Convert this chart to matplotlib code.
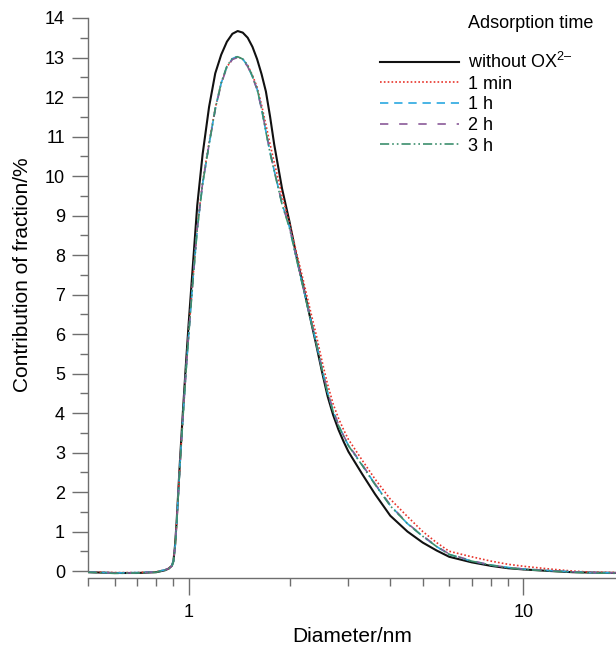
import matplotlib
matplotlib.use("Agg")
import matplotlib.pyplot as plt
from matplotlib.ticker import FixedLocator, NullFormatter, FixedFormatter, MultipleLocator

plt.rcParams['font.family'] = ['Liberation Sans', 'DejaVu Sans']
plt.rcParams['mathtext.fontset'] = 'custom'
plt.rcParams['mathtext.rm'] = 'Liberation Sans'

# diameter grid (nm) and contribution of fraction (%)
diameter = [0.5, 0.6, 0.7, 0.8, 0.85, 0.87, 0.89, 0.9, 0.91, 0.92, 0.94, 0.96,
            0.98, 1.0, 1.03, 1.06, 1.1, 1.15, 1.2, 1.25, 1.3, 1.35, 1.4, 1.45,
            1.5, 1.55, 1.6, 1.65, 1.7, 1.75, 1.8, 1.9, 2.0, 2.1, 2.2, 2.3,
            2.4, 2.5, 2.6, 2.7, 2.8, 2.9, 3.0, 3.3, 3.6, 4.0, 4.5, 5.0, 5.5, 6.0,
            7.0, 8.0, 9.0, 10.0, 12.0, 14.0, 16.0, 20.0]

without_ox = [-0.03, -0.05, -0.05, -0.03, 0.02, 0.06, 0.13, 0.25, 0.65, 1.25, 2.7, 4.0,
              5.2, 6.3, 7.8, 9.25, 10.55, 11.75, 12.6, 13.07, 13.4, 13.6, 13.67, 13.63,
              13.5, 13.27, 12.96, 12.58, 12.14, 11.5, 10.8, 9.68, 8.84, 7.95, 7.2, 6.45,
              5.75, 5.05, 4.42, 3.95, 3.58, 3.28, 3.02, 2.45, 1.95, 1.4, 1.0, 0.72, 0.52, 0.36,
              0.22, 0.13, 0.07, 0.04, 0.0, -0.03, -0.04, -0.05]

min_1 = [-0.02, -0.04, -0.04, -0.02, 0.03, 0.06, 0.13, 0.26, 0.62, 1.22, 2.62, 3.85,
         5.0, 6.05, 7.45, 8.7, 9.85, 10.85, 11.72, 12.35, 12.76, 12.96, 13.02, 12.96,
         12.8, 12.55, 12.25, 11.8, 11.3, 10.8, 10.35, 9.5, 8.8, 8.05, 7.35, 6.65,
         6.0, 5.32, 4.72, 4.23, 3.87, 3.58, 3.33, 2.8, 2.33, 1.82, 1.38, 1.0, 0.72, 0.5,
         0.36, 0.25, 0.17, 0.12, 0.05, 0.0, -0.03, -0.04]

h_1 = [-0.02, -0.05, -0.04, -0.02, 0.03, 0.06, 0.13, 0.25, 0.6, 1.2, 2.6, 3.85,
       5.0, 6.0, 7.4, 8.65, 9.8, 10.8, 11.7, 12.35, 12.77, 12.97, 13.03, 12.96,
       12.79, 12.51, 12.2, 11.7, 11.13, 10.6, 10.14, 9.3, 8.7, 7.9, 7.15, 6.45,
       5.8, 5.12, 4.52, 4.05, 3.7, 3.42, 3.18, 2.68, 2.2, 1.66, 1.2, 0.88, 0.62, 0.42,
       0.25, 0.15, 0.09, 0.05, 0.01, -0.02, -0.04, -0.05]

h_2 = [-0.03, -0.05, -0.05, -0.02, 0.03, 0.06, 0.13, 0.26, 0.61, 1.22, 2.62, 3.87,
       5.0, 6.02, 7.42, 8.66, 9.82, 10.8, 11.68, 12.33, 12.75, 12.95, 13.0, 12.94,
       12.77, 12.5, 12.19, 11.7, 11.14, 10.6, 10.15, 9.3, 8.71, 7.91, 7.16, 6.46,
       5.82, 5.13, 4.53, 4.06, 3.71, 3.43, 3.19, 2.69, 2.21, 1.67, 1.21, 0.89, 0.63, 0.43,
       0.26, 0.15, 0.09, 0.05, 0.01, -0.02, -0.04, -0.05]

h_3 = [-0.03, -0.06, -0.05, -0.03, 0.02, 0.05, 0.12, 0.24, 0.59, 1.18, 2.58, 3.83,
       4.98, 6.0, 7.38, 8.64, 9.8, 10.8, 11.7, 12.36, 12.78, 12.98, 13.02, 12.96,
       12.8, 12.52, 12.21, 11.71, 11.12, 10.58, 10.13, 9.28, 8.68, 7.89, 7.14, 6.44,
       5.8, 5.11, 4.51, 4.04, 3.69, 3.41, 3.17, 2.67, 2.19, 1.65, 1.2, 0.88, 0.62, 0.42,
       0.25, 0.15, 0.08, 0.04, 0.0, -0.03, -0.05, -0.06]

labels = ['without OX$^{\\mathrm{2\u2013}}$', '1 min', '1 h', '2 h', '3 h']
series = [without_ox, min_1, h_1, h_2, h_3]
colors = ['#111111', '#e8332a', '#2aa8e0', '#8a5a98', '#3c8f6d']
widths = [1.5, 1.2, 1.2, 1.2, 1.2]
dashes = [None, (1, 1.3), (5, 3.5), (5, 6.5), (5.5, 1.8, 1, 1.8, 1, 1.8)]

W, H = 616, 649
fig = plt.figure(figsize=(W / 100, H / 100), dpi=100)
ax = fig.add_axes([88 / W, (H - 578) / H, 1 - 88 / W, (578 - 18) / H])

for y, lab, c, lw, d in zip(series, labels, colors, widths, dashes):
    line, = ax.plot(diameter, y, color=c, lw=lw, label=lab)
    if d is not None:
        line.set_dashes(d)

ax.set_xscale('log')
ax.set_xlim(0.5, 18.9)
ax.set_ylim(-0.177, 14.0)

ax.xaxis.set_major_locator(FixedLocator([1, 10]))
ax.xaxis.set_major_formatter(FixedFormatter(['1', '10']))
ax.xaxis.set_minor_locator(FixedLocator([0.5, 0.6, 0.7, 0.8, 0.9, 2, 3, 4, 5, 6, 7, 8, 9]))
ax.xaxis.set_minor_formatter(NullFormatter())
ax.yaxis.set_major_locator(MultipleLocator(1))
ax.yaxis.set_minor_locator(MultipleLocator(0.5))

grey = '#6e6e6e'
for s in ['top', 'right']:
    ax.spines[s].set_visible(False)
for s in ['left', 'bottom']:
    ax.spines[s].set_color(grey)
    ax.spines[s].set_linewidth(1.0)
ax.spines['left'].set_bounds(0, 14)

ax.tick_params(axis='both', which='major', direction='out', color=grey,
               width=1.0, labelsize=13, pad=5)
ax.tick_params(axis='x', which='major', length=12, pad=7)
ax.tick_params(axis='y', which='major', length=11.5)
ax.tick_params(axis='both', which='minor', direction='out', color=grey,
               width=1.0, length=5.8)

ax.set_xlabel('Diameter/nm', fontsize=15, labelpad=4)
ax.set_ylabel('Contribution of fraction/%', fontsize=15)
ax.yaxis.set_label_coords(-0.107, 0.541)

leg = ax.legend(loc='upper left', bbox_to_anchor=(380 / W, 1 - 52 / H),
                bbox_transform=fig.transFigure, frameon=False, fontsize=13,
                handlelength=4.4, handletextpad=0.5, labelspacing=0.2,
                borderpad=0, borderaxespad=0)
fig.text(468 / W, 1 - 24 / H, 'Adsorption time', fontsize=13, va='center', ha='left')

fig.savefig('out.png', dpi=100)
